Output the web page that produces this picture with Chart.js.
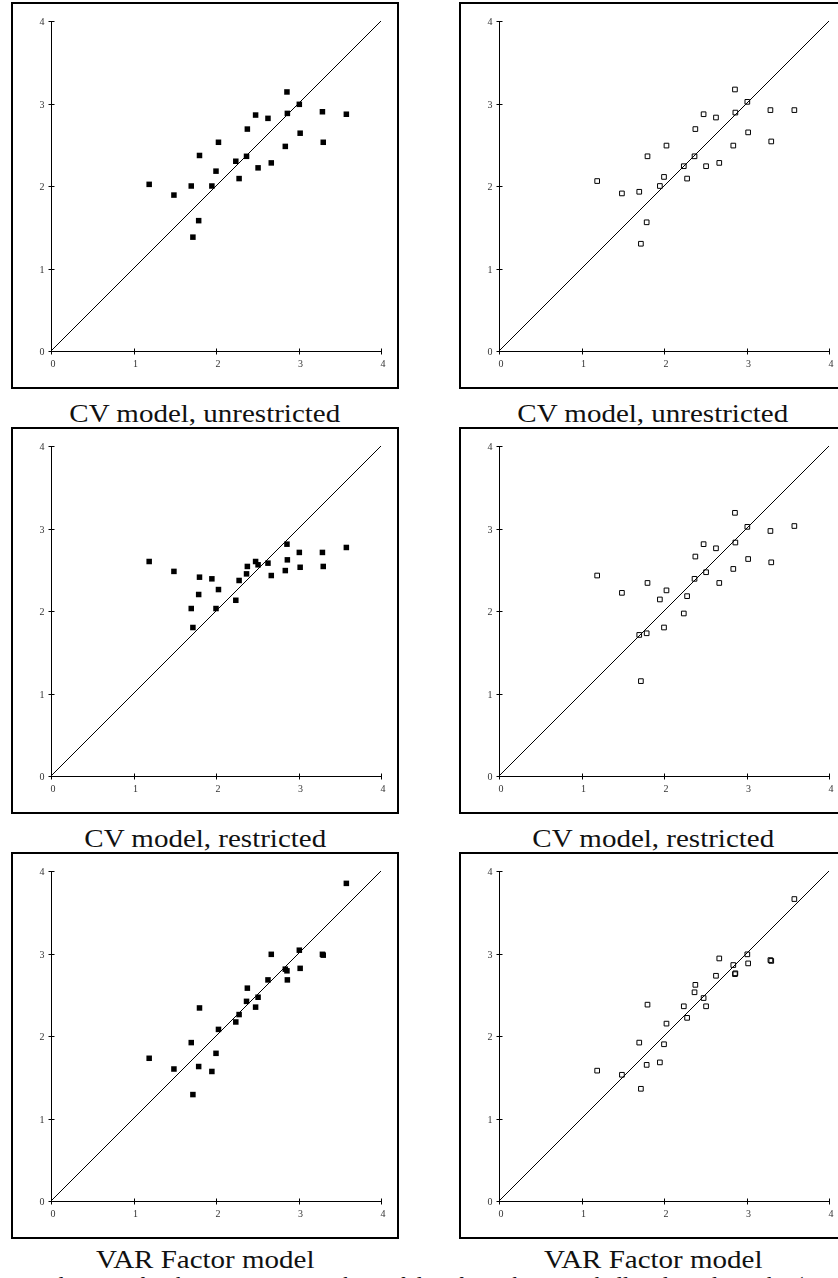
<!DOCTYPE html>
<html>
<head>
<meta charset="utf-8">
<script src="https://cdn.jsdelivr.net/npm/chart.js@4.4.1/dist/chart.umd.min.js"></script>
<style>
  body { margin: 0; width: 838px; height: 1278px; overflow: hidden; background: #fff; position: relative; font-family: 'Liberation Serif', 'Times New Roman', serif; }
  .box { position: absolute; width: 384px; height: 383px; border: 2px solid #000; }
  .box canvas { display: block; }
  .title { position: absolute; width: 388px; text-align: center; font-size: 25px; line-height: 25px; color: #111; white-space: nowrap; }
  .title span { display: inline-block; transform: scaleX(1.16); }
  .caption { position: absolute; top: 1274px; font-size: 23px; line-height: 23px; white-space: nowrap; color: #111; }
</style>
</head>
<body>

<div class="box" style="left:11px; top:2px;"><canvas id="cvUnrestrictedA" width="384" height="383"></canvas></div>
<div class="box" style="left:459px; top:2px;"><canvas id="cvUnrestrictedB" width="384" height="383"></canvas></div>
<div class="title" style="left:11px; top:401px;"><span>CV model, unrestricted</span></div>
<div class="title" style="left:459px; top:401px;"><span>CV model, unrestricted</span></div>

<div class="box" style="left:11px; top:427px;"><canvas id="cvRestrictedA" width="384" height="383"></canvas></div>
<div class="box" style="left:459px; top:427px;"><canvas id="cvRestrictedB" width="384" height="383"></canvas></div>
<div class="title" style="left:11px; top:826px;"><span>CV model, restricted</span></div>
<div class="title" style="left:459px; top:826px;"><span>CV model, restricted</span></div>

<div class="box" style="left:11px; top:852px;"><canvas id="varFactorA" width="384" height="383"></canvas></div>
<div class="box" style="left:459px; top:852px;"><canvas id="varFactorB" width="384" height="383"></canvas></div>
<div class="title" style="left:11px; top:1247px;"><span>VAR Factor model</span></div>
<div class="title" style="left:459px; top:1247px;"><span>VAR Factor model</span></div>

<div class="caption" style="right:704px;">and expected returns</div>
<div class="caption" style="left:137px;">for the 25 Fama-French portfolios from the Campbell and Vuolteenaho (2004) data</div>

<script>
// realized average returns (x), shared by all six panels
const realized = [1.19, 1.49, 1.70, 1.72, 1.79, 1.80, 1.95, 2.00, 2.03, 2.24, 2.28, 2.37, 2.38, 2.48, 2.51, 2.63, 2.67, 2.84, 2.86, 2.865, 3.01, 3.02, 3.29, 3.30, 3.58];

// predicted returns, one list per panel
const cvUnrestrictedA = [2.02, 1.89, 2.00, 1.38, 1.58, 2.37, 2.00, 2.18, 2.53, 2.30, 2.09, 2.36, 2.69, 2.86, 2.22, 2.82, 2.28, 2.48, 3.14, 2.88, 2.99, 2.64, 2.90, 2.53, 2.87];
const cvUnrestrictedB = [2.06, 1.91, 1.93, 1.30, 1.56, 2.36, 2.00, 2.11, 2.49, 2.24, 2.09, 2.36, 2.69, 2.87, 2.24, 2.83, 2.28, 2.49, 3.17, 2.89, 3.02, 2.65, 2.92, 2.54, 2.92];
const cvRestrictedA = [2.60, 2.48, 2.03, 1.80, 2.20, 2.41, 2.39, 2.03, 2.26, 2.13, 2.37, 2.45, 2.54, 2.60, 2.56, 2.58, 2.43, 2.49, 2.81, 2.62, 2.71, 2.53, 2.71, 2.54, 2.77];
const cvRestrictedB = [2.43, 2.22, 1.71, 1.15, 1.73, 2.34, 2.14, 1.80, 2.25, 1.97, 2.18, 2.39, 2.66, 2.81, 2.47, 2.76, 2.34, 2.51, 3.19, 2.83, 3.02, 2.63, 2.97, 2.59, 3.03];
const varFactorA = [1.73, 1.60, 1.92, 1.29, 1.63, 2.34, 1.57, 1.79, 2.08, 2.17, 2.26, 2.42, 2.58, 2.35, 2.47, 2.68, 2.99, 2.81, 2.79, 2.68, 3.04, 2.82, 2.99, 2.98, 3.85];
const varFactorB = [1.58, 1.53, 1.92, 1.36, 1.65, 2.38, 1.68, 1.90, 2.15, 2.36, 2.22, 2.53, 2.62, 2.46, 2.36, 2.73, 2.94, 2.86, 2.75, 2.76, 2.99, 2.88, 2.92, 2.91, 3.66];

const axisTicks = [0, 1, 2, 3, 4];
const diagonal = [0, 4];

// axes through the origin: tick marks crossing the line, small serif labels
const originAxes = {
    id: 'originAxes',
    afterDraw(chart) {
        const { ctx, scales: { x, y } } = chart;
        const x0 = Math.round(x.getPixelForValue(0)) + 0.5;
        const y0 = Math.round(y.getPixelForValue(0)) + 0.5;
        ctx.save();
        ctx.strokeStyle = '#000';
        ctx.lineWidth = 1;
        ctx.beginPath();
        axisTicks.forEach(v => {
            const px = Math.round(x.getPixelForValue(v)) + 0.5;
            const py = Math.round(y.getPixelForValue(v)) + 0.5;
            ctx.moveTo(px, y0 - 3);
            ctx.lineTo(px, y0 + 3);
            ctx.moveTo(x0 - 3, py);
            ctx.lineTo(x0 + 3, py);
        });
        ctx.stroke();

        ctx.fillStyle = '#333';
        ctx.font = '10px "Liberation Serif"';
        ctx.textBaseline = 'middle';
        axisTicks.forEach(v => {
            ctx.textAlign = 'center';
            ctx.fillText(String(v), x.getPixelForValue(v) + 2, y0 + 13);
            ctx.textAlign = 'right';
            ctx.fillText(String(v), x0 - 7, y.getPixelForValue(v) + 1.5);
        });
        ctx.restore();
    }
};

function makePanel(id, values, hollow) {
    const ctx = document.getElementById(id);
    if (!ctx) return;
    new Chart(ctx.getContext('2d'), {
        type: 'scatter',
        data: {
            datasets: [
                {
                    type: 'line',
                    data: diagonal.map(v => ({ x: v, y: v })),
                    borderColor: '#000',
                    borderWidth: 1,
                    pointRadius: 0,
                    fill: false
                },
                {
                    data: realized.map((r, i) => ({ x: r, y: values[i] })),
                    pointStyle: 'rect',
                    pointRadius: hollow ? 3.3 : 3.9,
                    backgroundColor: hollow ? 'rgba(0,0,0,0)' : '#000',
                    borderColor: '#000',
                    borderWidth: hollow ? 1 : 0
                }
            ]
        },
        options: {
            responsive: false,
            animation: false,
            layout: { padding: { left: 20, right: 16, top: 17, bottom: 20 } },
            plugins: {
                legend: { display: false },
                tooltip: { enabled: false }
            },
            scales: {
                x: {
                    type: 'linear',
                    min: 0,
                    max: 4,
                    afterFit: s => { s.height = 16; },
                    grid: { display: false },
                    border: { display: true, color: '#000', width: 1 },
                    ticks: { display: false, stepSize: 1 }
                },
                y: {
                    type: 'linear',
                    min: 0,
                    max: 4,
                    afterFit: s => { s.width = 18; },
                    grid: { display: false },
                    border: { display: true, color: '#000', width: 1 },
                    ticks: { display: false, stepSize: 1 }
                }
            }
        },
        plugins: [originAxes]
    });
}

document.addEventListener('DOMContentLoaded', () => {
    makePanel('cvUnrestrictedA', cvUnrestrictedA, false);
    makePanel('cvUnrestrictedB', cvUnrestrictedB, true);
    makePanel('cvRestrictedA', cvRestrictedA, false);
    makePanel('cvRestrictedB', cvRestrictedB, true);
    makePanel('varFactorA', varFactorA, false);
    makePanel('varFactorB', varFactorB, true);
});
</script>
</body>
</html>
